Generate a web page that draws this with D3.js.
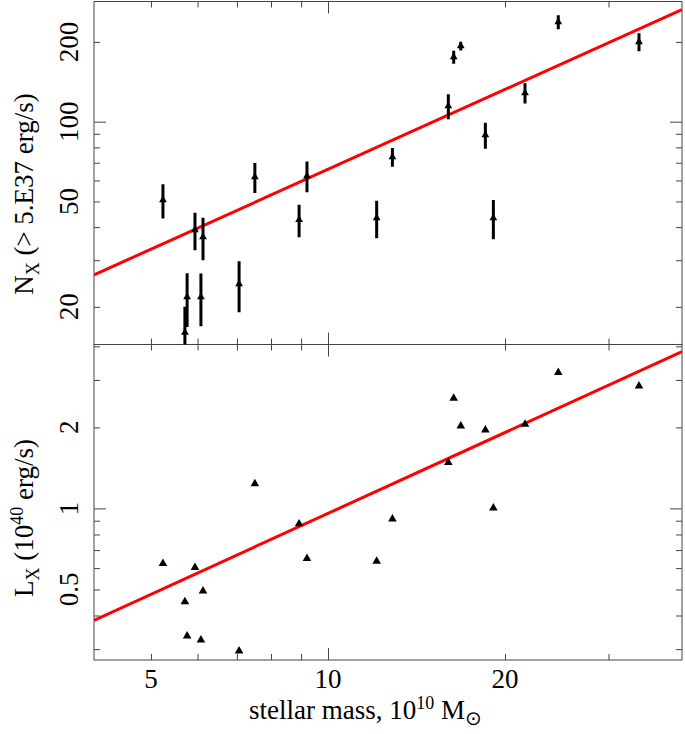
<!DOCTYPE html>
<html><head><meta charset="utf-8">
<script src="https://cdn.jsdelivr.net/npm/d3@7"></script>
<style>
body{margin:0;background:#fff}
svg{display:block}
text{font-family:"Liberation Serif","Times New Roman",serif;fill:#000}
</style>
</head><body>
<svg id="c" width="685" height="734"></svg>
<script>
// ---- data ----
const mass = [5.24, 5.71, 5.76, 5.94, 6.08, 6.13, 7.06, 7.51, 8.93, 9.21, 12.10, 12.87, 16.02, 16.36, 16.82, 18.52, 19.11, 21.63, 24.64, 33.8];
const nX   = [50.6, 16.0, 21.8, 39.0, 21.8, 36.7, 24.4, 61.8, 42.6, 62.4, 43.3, 73.6, 114.6, 175.4, 193, 89.1, 43.3, 128.3, 237.7, 200];
const nErr = [7.5, 4.0, 5.0, 6.3, 4.9, 6.7, 5.3, 8.0, 6.0, 8.3, 7.0, 6.0, 12.4, 10.0, 7.5, 10.0, 7.3, 11.3, 14.5, 15.7];
const lX   = [0.624, 0.450, 0.336, 0.603, 0.3245, 0.493, 0.2954, 1.235, 0.876, 0.651, 0.636, 0.914, 1.48, 2.564, 2.024, 1.956, 1.003, 2.054, 3.20, 2.848];
const fitMass = [4, 40];
const fitN = [26.4, 265];
const fitL = [0.384, 3.82];
const xMinor = [5, 6, 7, 8, 9, 20, 30];
const xMajor = [10];
const xLabels = [5, 10, 20];
const nMinor = [20, 30, 40, 50, 60, 70, 80, 90, 200];
const nMajor = [100];
const nLabels = [20, 50, 100, 200];
const lMinor = [0.3, 0.4, 0.5, 0.6, 0.7, 0.8, 0.9, 2, 3, 4];
const lMajor = [1];
const lLabels = [0.5, 1, 2];

// ---- layout ----
const L = 94, R = 682, T1 = 1.5, B1 = 344.5, T2 = 344.5, B2 = 660;
const svg = d3.select("#c");
const x = d3.scaleLog().domain([4, 40]).range([L, R]);
const yN = d3.scaleLog().domain([14.42, 284.2]).range([B1, T1]);
const yL = d3.scaleLog().domain([0.2734, 4.063]).range([B2, T2]);

const defs = svg.append("defs");
defs.append("clipPath").attr("id","cp1").append("rect").attr("x",L).attr("y",T1).attr("width",R-L).attr("height",B1-T1);
defs.append("clipPath").attr("id","cp2").append("rect").attr("x",L).attr("y",T2).attr("width",R-L).attr("height",B2-T2);

const fmt = d => String(d);

function xticks(top, bottom) {
  const g = svg.append("g").attr("class","ticks");
  [[xMinor, 6], [xMajor, 12]].forEach(([vals, sz]) => {
    g.append("g").attr("transform",`translate(0,${bottom})`)
      .call(d3.axisBottom(x).tickValues(vals).tickSize(-sz).tickFormat(""));
    g.append("g").attr("transform",`translate(0,${top})`)
      .call(d3.axisTop(x).tickValues(vals).tickSize(-sz).tickFormat(""));
  });
}
function yticks(y, minor, major) {
  const g = svg.append("g").attr("class","ticks");
  [[minor, 6], [major, 12]].forEach(([vals, sz]) => {
    g.append("g").attr("transform",`translate(${L},0)`)
      .call(d3.axisLeft(y).tickValues(vals).tickSize(-sz).tickFormat(""));
    g.append("g").attr("transform",`translate(${R},0)`)
      .call(d3.axisRight(y).tickValues(vals).tickSize(-sz).tickFormat(""));
  });
}

xticks(T1, B1);
xticks(T2, B2);
yticks(yN, nMinor, nMajor);
yticks(yL, lMinor, lMajor);
svg.selectAll(".ticks path.domain").remove();
svg.selectAll(".ticks line").attr("stroke","#444").attr("stroke-width",1);

// frames
svg.append("rect").attr("x",L).attr("y",T1).attr("width",R-L).attr("height",B1-T1)
  .attr("fill","none").attr("stroke","#444").attr("stroke-width",1);
svg.append("rect").attr("x",L).attr("y",T2).attr("width",R-L).attr("height",B2-T2)
  .attr("fill","none").attr("stroke","#444").attr("stroke-width",1);

// top panel data
const p1 = svg.append("g").attr("clip-path","url(#cp1)");
const line = (ys) => d3.line().x(d => x(d[0])).y(d => ys(d[1]));
p1.append("path").datum(fitMass.map((m,i)=>[m, fitN[i]]))
  .attr("d", line(yN)).attr("stroke","#ff0000").attr("stroke-width",3).attr("fill","none");
p1.selectAll("line.err").data(mass).enter().append("line")
  .attr("x1",(d)=>x(d)).attr("x2",(d)=>x(d))
  .attr("y1",(d,i)=>yN(nX[i]-nErr[i])).attr("y2",(d,i)=>yN(nX[i]+nErr[i]))
  .attr("stroke","#000").attr("stroke-width",3);
p1.selectAll("path.pt").data(mass).enter().append("path")
  .attr("d", d3.symbol(d3.symbolTriangle, 26))
  .attr("transform",(d,i)=>`translate(${x(d)},${yN(nX[i])})`).attr("fill","#000");

// bottom panel data
const p2 = svg.append("g").attr("clip-path","url(#cp2)");
p2.append("path").datum(fitMass.map((m,i)=>[m, fitL[i]]))
  .attr("d", line(yL)).attr("stroke","#ff0000").attr("stroke-width",3).attr("fill","none");
p2.selectAll("path.pt").data(mass).enter().append("path")
  .attr("d", d3.symbol(d3.symbolTriangle, 32))
  .attr("transform",(d,i)=>`translate(${x(d)},${yL(lX[i])})`).attr("fill","#000");

// tick labels
const FS = 27, FT = 27;
svg.selectAll("text.xl").data(xLabels).enter().append("text")
  .attr("x", d=>x(d)).attr("y", 688).attr("text-anchor","middle")
  .attr("font-size", FS).text(fmt);
function ylabels(y, vals) {
  svg.selectAll(null).data(vals).enter().append("text")
    .attr("transform", d=>`translate(78,${y(d)}) rotate(-90)`)
    .attr("text-anchor","middle").attr("font-size", FS).text(fmt);
}
ylabels(yN, nLabels);
ylabels(yL, lLabels);

// axis titles
const xt = svg.append("text").attr("x", 249).attr("y", 719).attr("font-size", FT);
xt.append("tspan").text("stellar mass, 10");
xt.append("tspan").attr("font-size", 18).attr("dy", -10).text("10");
xt.append("tspan").attr("dy", 10).text(" M");
xt.append("tspan").attr("font-size", 20).attr("dy", 6).text("⊙");

const yt1 = svg.append("text").attr("transform","translate(33,194) rotate(-90)")
  .attr("text-anchor","middle").attr("font-size", FT);
yt1.append("tspan").text("N");
yt1.append("tspan").attr("font-size", 18).attr("dy", 6).text("X");
yt1.append("tspan").attr("dy", -6).text(" (> 5.E37 erg/s)");

const yt2 = svg.append("text").attr("transform","translate(33,518) rotate(-90)")
  .attr("text-anchor","middle").attr("font-size", FT);
yt2.append("tspan").text("L");
yt2.append("tspan").attr("font-size", 18).attr("dy", 6).text("X");
yt2.append("tspan").attr("dy", -6).text(" (10");
yt2.append("tspan").attr("font-size", 18).attr("dy", -10).text("40");
yt2.append("tspan").attr("dy", 10).text(" erg/s)");
</script>
</body></html>
